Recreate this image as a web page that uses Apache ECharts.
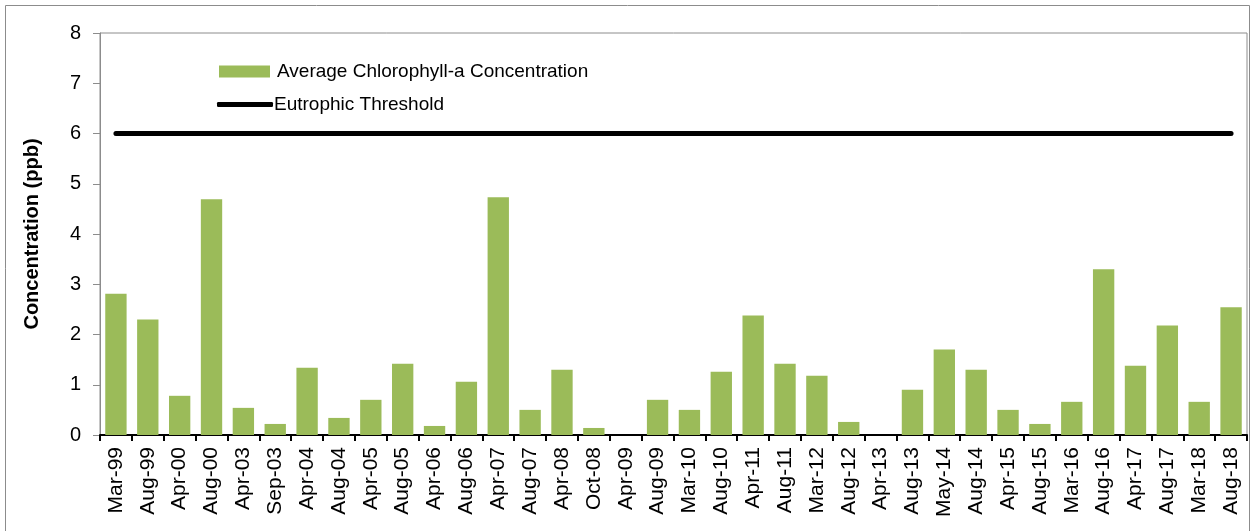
<!DOCTYPE html>
<html>
<head>
<meta charset="utf-8">
<script src="https://cdn.jsdelivr.net/npm/echarts@6/dist/echarts.min.js"></script>
<style>
  html, body { margin: 0; padding: 0; background: #fff; }
  #chart { width: 1256px; height: 531px; }
</style>
</head>
<body>
<div id="chart"></div>
<script>
// sampling dates
const dates = ['Mar-99','Aug-99','Apr-00','Aug-00','Apr-03','Sep-03','Apr-04','Aug-04','Apr-05','Aug-05',
  'Apr-06','Aug-06','Apr-07','Aug-07','Apr-08','Oct-08','Apr-09','Aug-09','Mar-10','Aug-10',
  'Apr-11','Aug-11','Mar-12','Aug-12','Apr-13','Aug-13','May-14','Aug-14','Apr-15','Aug-15',
  'Mar-16','Aug-16','Apr-17','Aug-17','Mar-18','Aug-18']
// average chlorophyll-a (ppb)
const chlValues = [2.81, 2.30, 0.78, 4.69, 0.54, 0.22, 1.34, 0.34, 0.70, 1.42,
  0.18, 1.06, 4.73, 0.50, 1.30, 0.14, 0, 0.70, 0.50, 1.26,
  2.38, 1.42, 1.18, 0.26, 0, 0.90, 1.70, 1.30, 0.50, 0.22,
  0.66, 3.30, 1.38, 2.18, 0.66, 2.54]
const thresholdValue = 6
const thresholdLine = dates.map(() => thresholdValue)
const yTicks = [0, 1, 2, 3, 4, 5, 6, 7, 8]

const chart = echarts.init(document.getElementById('chart'))

const font = 'Liberation Sans, Arial, sans-serif'

const option = {
  animation: false,
  textStyle: { fontFamily: font },
  graphic: [{
    type: 'rect',
    shape: { x: 5.5, y: 5.5, width: 1244, height: 540 },
    style: { fill: 'none', stroke: '#8c8c8c', lineWidth: 1 },
    silent: true
  }],
  grid: {
    left: 100, right: 9, top: 33, bottom: 96,
    show: true, borderColor: '#8c8c8c', borderWidth: 1
  },
  legend: [
    {
      data: [{ name: 'Average Chlorophyll-a Concentration', icon: 'rect' }],
      left: 214, top: 57,
      itemWidth: 51, itemHeight: 12, itemGap: 6,
      textStyle: { fontSize: 19, color: '#000', fontFamily: font, padding: [0, 0, 0, 2] }
    },
    {
      data: [{ name: 'Eutrophic Threshold', icon: 'roundRect' }],
      left: 212, top: 90,
      itemWidth: 56, itemHeight: 5,
      itemStyle: { color: '#000' },
      textStyle: { fontSize: 19, color: '#000', fontFamily: font, padding: [0, 0, 0, -4] }
    }
  ],
  xAxis: {
    type: 'category',
    data: dates,
    boundaryGap: true,
    axisLine: { lineStyle: { color: '#000', width: 2 } },
    axisTick: { show: true, alignWithLabel: false, length: 6, lineStyle: { color: '#000', width: 2 } },
    axisLabel: {
      interval: 0, rotate: 90, fontSize: 21, color: '#000', margin: 12
    }
  },
  yAxis: {
    type: 'value',
    min: yTicks[0], max: yTicks[yTicks.length - 1], interval: 1,
    name: 'Concentration (ppb)',
    nameLocation: 'middle',
    nameGap: 58,
    nameRotate: 90,
    nameTextStyle: { fontSize: 20, fontWeight: 'bold', color: '#000' },
    axisLine: { show: true, lineStyle: { color: '#8c8c8c', width: 1 } },
    axisTick: { show: true, length: 7, lineStyle: { color: '#8c8c8c' } },
    axisLabel: { fontSize: 20, color: '#000', margin: 19 },
    splitLine: { show: false }
  },
  series: [
    {
      name: 'Average Chlorophyll-a Concentration',
      type: 'bar',
      data: chlValues,
      barCategoryGap: '33%',
      itemStyle: { color: '#9BBB59', borderWidth: 0 }
    },
    {
      name: 'Eutrophic Threshold',
      type: 'line',
      data: thresholdLine,
      symbol: 'none',
      lineStyle: { color: '#000', width: 5, cap: 'round' },
      itemStyle: { color: '#000' },
      z: 3
    }
  ]
}

chart.setOption(option)
</script>
</body>
</html>
